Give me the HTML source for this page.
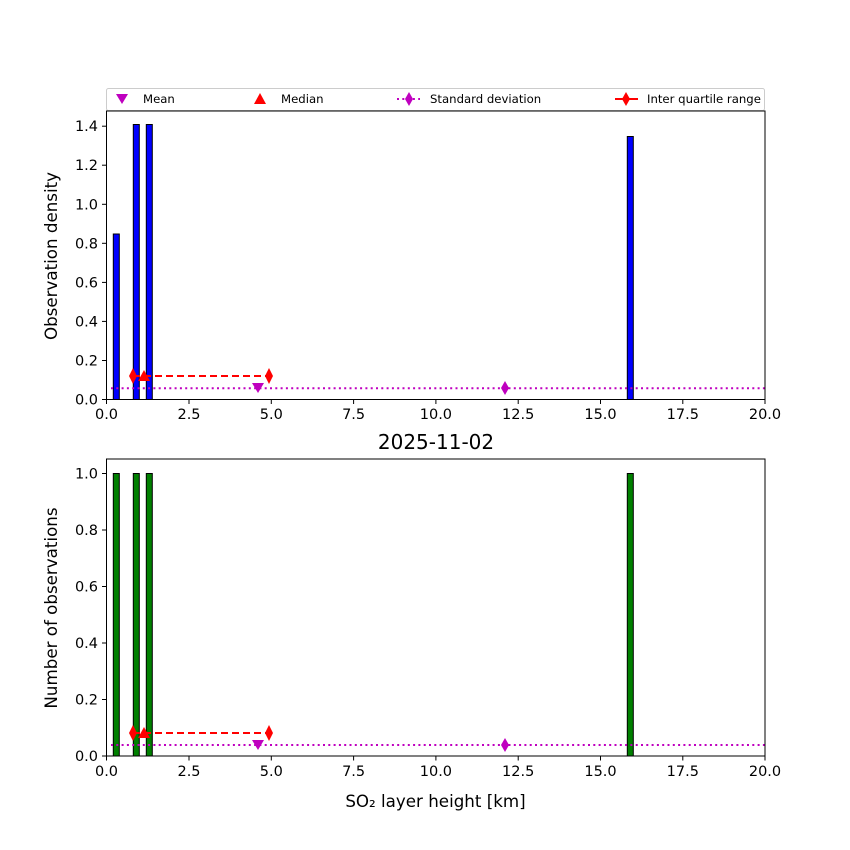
<!DOCTYPE html>
<html><head><meta charset="utf-8"><style>body{margin:0;background:#fff}svg{display:block}text{font-family:"DejaVu Sans","Liberation Sans",sans-serif;fill:#000}</style></head><body>
<svg width="850" height="850" viewBox="0 0 850 850" xmlns="http://www.w3.org/2000/svg">
<rect width="850" height="850" fill="#fff"/>
<!-- legend -->
<rect x="106.5" y="88.5" width="658" height="22" fill="#fff" stroke="#ccc" rx="2"/>
<polygon points="116,94 128,94 122,104" fill="#bf00bf"/>
<text x="143" y="103" font-size="11.7">Mean</text>
<polygon points="254,104 266,104 260,93" fill="#f00"/>
<text x="281" y="103" font-size="11.7">Median</text>
<line x1="397" y1="99" x2="420" y2="99" stroke="#bf00bf" stroke-width="2" stroke-dasharray="2,3.3"/>
<polygon points="409,92 413,99 409,106 405,99" fill="#bf00bf"/>
<text x="430" y="103" font-size="11.7">Standard deviation</text>
<line x1="615" y1="99" x2="638" y2="99" stroke="#f00" stroke-width="2"/>
<polygon points="626,92 630,99 626,106 622,99" fill="#f00"/>
<text x="647" y="103" font-size="11.7">Inter quartile range</text>

<!-- top axes -->
<g stroke="#000" stroke-width="1">
<rect x="113.3" y="234" width="6" height="165.5" fill="#00f"/>
<rect x="133.3" y="124.5" width="6" height="275" fill="#00f"/>
<rect x="146.3" y="124.5" width="6" height="275" fill="#00f"/>
<rect x="627.3" y="136.5" width="6" height="263" fill="#00f"/>
</g>
<line x1="111" y1="388.3" x2="765" y2="388.3" stroke="#bf00bf" stroke-width="2" stroke-dasharray="2,3.3"/>
<polygon points="252,383 264,383 258,393" fill="#bf00bf"/>
<polygon points="505,381 509,388 505,395 501,388" fill="#bf00bf"/>
<line x1="133" y1="376" x2="269" y2="376" stroke="#f00" stroke-width="2" stroke-dasharray="7,4"/>
<polygon points="133,368 137,376 133,384 129,376" fill="#f00"/>
<polygon points="269,368 273,376 269,384 265,376" fill="#f00"/>
<polygon points="138,381 150,381 144,370" fill="#f00"/>
<rect x="106.5" y="111" width="658.5" height="288.5" fill="none" stroke="#000"/>
<g stroke="#000">
<line x1="106.5" y1="399.5" x2="106.5" y2="404"/><line x1="189" y1="399.5" x2="189" y2="404"/><line x1="271.3" y1="399.5" x2="271.3" y2="404"/><line x1="353.6" y1="399.5" x2="353.6" y2="404"/><line x1="435.9" y1="399.5" x2="435.9" y2="404"/><line x1="518.2" y1="399.5" x2="518.2" y2="404"/><line x1="600.5" y1="399.5" x2="600.5" y2="404"/><line x1="682.8" y1="399.5" x2="682.8" y2="404"/><line x1="765" y1="399.5" x2="765" y2="404"/>
<line x1="102" y1="399.5" x2="106.5" y2="399.5"/><line x1="102" y1="360.5" x2="106.5" y2="360.5"/><line x1="102" y1="321.4" x2="106.5" y2="321.4"/><line x1="102" y1="282.4" x2="106.5" y2="282.4"/><line x1="102" y1="243.3" x2="106.5" y2="243.3"/><line x1="102" y1="204.3" x2="106.5" y2="204.3"/><line x1="102" y1="165.2" x2="106.5" y2="165.2"/><line x1="102" y1="126.2" x2="106.5" y2="126.2"/>
</g>
<g font-size="14.5" text-anchor="middle">
<text x="106.5" y="419">0.0</text><text x="189" y="419">2.5</text><text x="271.3" y="419">5.0</text><text x="353.6" y="419">7.5</text><text x="435.9" y="419">10.0</text><text x="518.2" y="419">12.5</text><text x="600.5" y="419">15.0</text><text x="682.8" y="419">17.5</text><text x="765" y="419">20.0</text>
</g>
<g font-size="14.5" text-anchor="end">
<text x="98" y="404.5">0.0</text><text x="98" y="365.5">0.2</text><text x="98" y="326.4">0.4</text><text x="98" y="287.4">0.6</text><text x="98" y="248.3">0.8</text><text x="98" y="209.3">1.0</text><text x="98" y="170.2">1.2</text><text x="98" y="131.2">1.4</text>
</g>
<text transform="translate(57,256) rotate(-90)" font-size="16.7" text-anchor="middle">Observation density</text>

<text x="436" y="449" font-size="20" text-anchor="middle">2025-11-02</text>

<!-- bottom axes -->
<g stroke="#000" stroke-width="1">
<rect x="113.3" y="473.5" width="6" height="282.5" fill="#008000"/>
<rect x="133.3" y="473.5" width="6" height="282.5" fill="#008000"/>
<rect x="146.3" y="473.5" width="6" height="282.5" fill="#008000"/>
<rect x="627.3" y="473.5" width="6" height="282.5" fill="#008000"/>
</g>
<line x1="111" y1="745" x2="765" y2="745" stroke="#bf00bf" stroke-width="2" stroke-dasharray="2,3.3"/>
<polygon points="252,740 264,740 258,750" fill="#bf00bf"/>
<polygon points="505,738 509,745 505,752 501,745" fill="#bf00bf"/>
<line x1="133" y1="733" x2="269" y2="733" stroke="#f00" stroke-width="2" stroke-dasharray="7,4"/>
<polygon points="133,725 137,733 133,741 129,733" fill="#f00"/>
<polygon points="269,725 273,733 269,741 265,733" fill="#f00"/>
<polygon points="138,738 150,738 144,727" fill="#f00"/>
<rect x="106.5" y="459" width="658.5" height="297" fill="none" stroke="#000"/>
<g stroke="#000">
<line x1="106.5" y1="756" x2="106.5" y2="760.5"/><line x1="189" y1="756" x2="189" y2="760.5"/><line x1="271.3" y1="756" x2="271.3" y2="760.5"/><line x1="353.6" y1="756" x2="353.6" y2="760.5"/><line x1="435.9" y1="756" x2="435.9" y2="760.5"/><line x1="518.2" y1="756" x2="518.2" y2="760.5"/><line x1="600.5" y1="756" x2="600.5" y2="760.5"/><line x1="682.8" y1="756" x2="682.8" y2="760.5"/><line x1="765" y1="756" x2="765" y2="760.5"/>
<line x1="102" y1="756" x2="106.5" y2="756"/><line x1="102" y1="699.5" x2="106.5" y2="699.5"/><line x1="102" y1="643" x2="106.5" y2="643"/><line x1="102" y1="586.5" x2="106.5" y2="586.5"/><line x1="102" y1="530" x2="106.5" y2="530"/><line x1="102" y1="473.5" x2="106.5" y2="473.5"/>
</g>
<g font-size="14.5" text-anchor="middle">
<text x="106.5" y="776">0.0</text><text x="189" y="776">2.5</text><text x="271.3" y="776">5.0</text><text x="353.6" y="776">7.5</text><text x="435.9" y="776">10.0</text><text x="518.2" y="776">12.5</text><text x="600.5" y="776">15.0</text><text x="682.8" y="776">17.5</text><text x="765" y="776">20.0</text>
</g>
<g font-size="14.5" text-anchor="end">
<text x="98" y="761">0.0</text><text x="98" y="704.5">0.2</text><text x="98" y="648">0.4</text><text x="98" y="591.5">0.6</text><text x="98" y="535">0.8</text><text x="98" y="478.5">1.0</text>
</g>
<text transform="translate(57,608) rotate(-90)" font-size="16.7" text-anchor="middle">Number of observations</text>
<text x="435.5" y="807" font-size="16.7" text-anchor="middle">SO₂ layer height [km]</text>
</svg>
</body></html>
